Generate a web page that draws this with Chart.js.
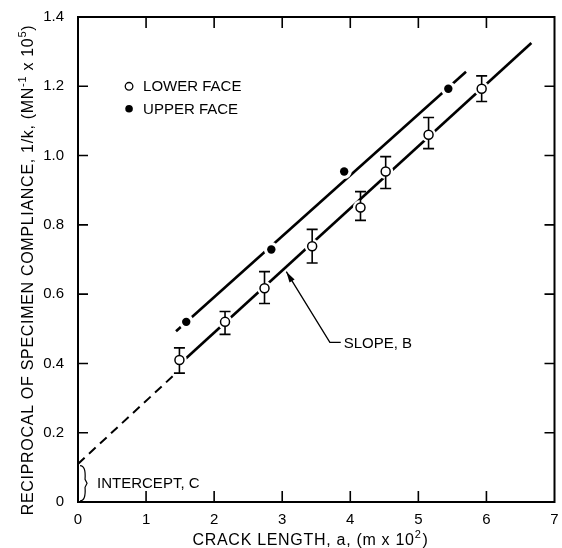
<!DOCTYPE html>
<html>
<head>
<meta charset="utf-8">
<script src="https://cdn.jsdelivr.net/npm/chart.js@4.4.0/dist/chart.umd.min.js"></script>
<style>
  body { margin: 0; background: #fff; }
  canvas { display: block; }
</style>
</head>
<body>
<canvas id="myChart" width="562" height="548"></canvas>
<script>
// data
var lowerX = [1.49, 2.16, 2.74, 3.44, 4.15, 4.52, 5.15, 5.93];
var lowerY = [0.41, 0.52, 0.617, 0.738, 0.85, 0.954, 1.06, 1.193];
var lowerErrLo = [0.372, 0.484, 0.573, 0.69, 0.813, 0.905, 1.02, 1.156];
var lowerErrHi = [0.445, 0.55, 0.665, 0.787, 0.896, 0.997, 1.11, 1.23];
var upperX = [1.59, 2.84, 3.91, 5.44];
var upperY = [0.52, 0.729, 0.954, 1.193];
var lowerFit = [[1.56, 0.41], [6.66, 1.325]];
var lowerFitExt = [[0, 0.11], [1.44, 0.372]];
var upperFit = [[1.44, 0.493], [5.70, 1.242]];
var xTicks = [0, 1, 2, 3, 4, 5, 6, 7];
var yTicks = [0, 0.2, 0.4, 0.6, 0.8, 1.0, 1.2, 1.4];

var FONT = '"Liberation Sans", Arial, sans-serif';

function pts(xs, ys) {
    return xs.map(function (x, i) { return { x: x, y: ys[i] }; });
}
function pairs(p) {
    return p.map(function (d) { return { x: d[0], y: d[1] }; });
}

// error bars, drawn right after the white halo so markers sit on top
function drawErrorBars(chart) {
    var ctx = chart.ctx, xs = chart.scales.x, ys = chart.scales.y;
    ctx.save();
    ctx.strokeStyle = '#000';
    ctx.lineWidth = 1.6;
    for (var i = 0; i < lowerX.length; i++) {
        var px = xs.getPixelForValue(lowerX[i]);
        var y1 = ys.getPixelForValue(lowerErrLo[i]);
        var y2 = ys.getPixelForValue(lowerErrHi[i]);
        ctx.beginPath();
        ctx.moveTo(px, y1); ctx.lineTo(px, y2);
        ctx.moveTo(px - 5.5, y1); ctx.lineTo(px + 5.5, y1);
        ctx.moveTo(px - 5.5, y2); ctx.lineTo(px + 5.5, y2);
        ctx.stroke();
    }
    ctx.restore();
}

var decor = {
    id: 'decor',
    afterDatasetDraw: function (chart, args) {
        if (args.meta.label === 'halo') drawErrorBars(chart);
    },
    afterDraw: function (chart) {
        var ctx = chart.ctx, a = chart.chartArea;
        var xs = chart.scales.x, ys = chart.scales.y;
        ctx.save();
        ctx.strokeStyle = '#000';
        ctx.fillStyle = '#000';

        // frame
        ctx.lineWidth = 2;
        ctx.strokeRect(a.left, a.top, a.right - a.left, a.bottom - a.top);

        // inward ticks on all sides
        ctx.lineWidth = 1.6;
        ctx.beginPath();
        xTicks.slice(1, -1).forEach(function (v) {
            var px = xs.getPixelForValue(v);
            ctx.moveTo(px, a.bottom); ctx.lineTo(px, a.bottom - 11);
            ctx.moveTo(px, a.top); ctx.lineTo(px, a.top + 11);
        });
        yTicks.slice(1, -1).forEach(function (v) {
            var py = ys.getPixelForValue(v);
            ctx.moveTo(a.left, py); ctx.lineTo(a.left + 10, py);
            ctx.moveTo(a.right, py); ctx.lineTo(a.right - 10, py);
        });
        ctx.stroke();

        // legend
        var lx = xs.getPixelForValue(0.75);
        var ly1 = ys.getPixelForValue(1.2);
        var ly2 = ly1 + 22.5;
        ctx.lineWidth = 1.3;
        ctx.beginPath(); ctx.arc(lx, ly1, 3.8, 0, Math.PI * 2); ctx.stroke();
        ctx.beginPath(); ctx.arc(lx, ly2, 3.8, 0, Math.PI * 2); ctx.fill();
        ctx.font = '15px ' + FONT;
        ctx.textBaseline = 'middle';
        ctx.textAlign = 'left';
        ctx.fillText('LOWER FACE', lx + 14, ly1 + 1);
        ctx.fillText('UPPER FACE', lx + 14, ly2 + 1);

        // slope annotation with arrow
        var tipX = xs.getPixelForValue(3.06), tipY = ys.getPixelForValue(0.665);
        var kx = xs.getPixelForValue(3.70), ky = ys.getPixelForValue(0.461);
        var ex = xs.getPixelForValue(3.86);
        ctx.lineWidth = 1.3;
        ctx.beginPath();
        ctx.moveTo(ex, ky); ctx.lineTo(kx, ky); ctx.lineTo(tipX, tipY);
        ctx.stroke();
        var ang = Math.atan2(tipY - ky, tipX - kx);
        ctx.beginPath();
        ctx.moveTo(tipX, tipY);
        ctx.lineTo(tipX - 11 * Math.cos(ang) + 3 * Math.sin(ang), tipY - 11 * Math.sin(ang) - 3 * Math.cos(ang));
        ctx.lineTo(tipX - 11 * Math.cos(ang) - 3 * Math.sin(ang), tipY - 11 * Math.sin(ang) + 3 * Math.cos(ang));
        ctx.closePath();
        ctx.fill();
        ctx.fillText('SLOPE, B', ex + 3, ky + 2);

        // intercept brace
        var bx = xs.getPixelForValue(0.03);
        var bTop = ys.getPixelForValue(0.105), bBot = ys.getPixelForValue(0.003);
        var bMid = (bTop + bBot) / 2;
        ctx.lineWidth = 1.2;
        ctx.beginPath();
        ctx.moveTo(bx, bTop);
        ctx.quadraticCurveTo(bx + 6, bTop, bx + 5, bMid - 4);
        ctx.lineTo(bx + 7, bMid);
        ctx.lineTo(bx + 5, bMid + 4);
        ctx.quadraticCurveTo(bx + 6, bBot, bx, bBot);
        ctx.stroke();
        ctx.fillText('INTERCEPT, C', bx + 17, bMid + 1);

        // x axis title
        ctx.font = '16px ' + FONT;
        ctx.letterSpacing = '0.7px';
        ctx.textAlign = 'left';
        var t1 = 'CRACK LENGTH, a, (m x 10';
        var w1 = ctx.measureText(t1).width;
        ctx.font = '11px ' + FONT;
        var w2 = ctx.measureText('2').width;
        ctx.font = '16px ' + FONT;
        var w3 = ctx.measureText(')').width;
        var tx = 310 - (w1 + w2 + w3) / 2, ty = 541;
        ctx.fillText(t1, tx, ty);
        ctx.font = '11px ' + FONT;
        ctx.fillText('2', tx + w1, ty - 6);
        ctx.font = '16px ' + FONT;
        ctx.fillText(')', tx + w1 + w2 + 1, ty);

        // y axis title (rotated)
        var segs = [
            ['RECIPROCAL OF SPECIMEN COMPLIANCE, 1/k, (MN', false],
            ['-1', true],
            [' x 10', false],
            ['5', true],
            [')', false]
        ];
        var total = 0;
        segs.forEach(function (s) {
            ctx.font = (s[1] ? '11px ' : '16px ') + FONT;
            s.w = ctx.measureText(s[0]).width;
            total += s.w;
        });
        ctx.translate(29, 270);
        ctx.rotate(-Math.PI / 2);
        var cx = -total / 2;
        segs.forEach(function (s) {
            ctx.font = (s[1] ? '11px ' : '16px ') + FONT;
            ctx.fillText(s[0], cx, s[1] ? -6 : 0);
            cx += s.w;
        });
        ctx.restore();
    }
};

var ctx = document.getElementById('myChart').getContext('2d');
var chart = new Chart(ctx, {
    type: 'scatter',
    data: {
        datasets: [{
            label: 'lower fit',
            data: pairs(lowerFit),
            showLine: true,
            borderColor: '#000',
            borderWidth: 2.6,
            pointRadius: 0,
            order: 5
        }, {
            label: 'lower fit extrapolated',
            data: pairs(lowerFitExt),
            showLine: true,
            borderColor: '#000',
            borderWidth: 2,
            borderDash: [9, 6],
            pointRadius: 0,
            order: 5
        }, {
            label: 'upper fit',
            data: pairs(upperFit),
            showLine: true,
            borderColor: '#000',
            borderWidth: 2.6,
            pointRadius: 0,
            order: 5
        }, {
            label: 'halo',
            data: pts(lowerX, lowerY).concat(pts(upperX, upperY)),
            pointRadius: 7.5,
            pointBackgroundColor: '#fff',
            pointBorderWidth: 0,
            pointBorderColor: '#fff',
            order: 3
        }, {
            label: 'LOWER FACE',
            data: pts(lowerX, lowerY),
            pointRadius: 4.5,
            pointBackgroundColor: '#fff',
            pointBorderColor: '#000',
            pointBorderWidth: 1.5,
            order: 1
        }, {
            label: 'UPPER FACE',
            data: pts(upperX, upperY),
            pointRadius: 4.2,
            pointBackgroundColor: '#000',
            pointBorderColor: '#000',
            pointBorderWidth: 0,
            order: 1
        }]
    },
    options: {
        responsive: false,
        animation: false,
        layout: { padding: { top: 17, right: 0, left: 0, bottom: 0 } },
        plugins: {
            legend: { display: false },
            tooltip: { enabled: false }
        },
        scales: {
            x: {
                type: 'linear',
                min: 0,
                max: 7,
                afterFit: function (s) {
                    s.height = 46;
                    s.paddingLeft = 0;
                    s.paddingRight = 0;
                },
                afterBuildTicks: function (s) {
                    s.ticks = xTicks.map(function (v) { return { value: v }; });
                },
                grid: { display: false, drawTicks: false },
                border: { display: false },
                ticks: {
                    padding: 9,
                    color: '#000',
                    font: { family: FONT, size: 15 },
                    callback: function (v) { return String(v); }
                }
            },
            y: {
                type: 'linear',
                min: 0,
                max: 1.4,
                afterFit: function (s) {
                    s.width = 78;
                    s.paddingTop = 0;
                    s.paddingBottom = 0;
                },
                afterBuildTicks: function (s) {
                    s.ticks = yTicks.map(function (v) { return { value: v }; });
                },
                grid: { display: false, drawTicks: false },
                border: { display: false },
                ticks: {
                    padding: 14,
                    color: '#000',
                    font: { family: FONT, size: 15 },
                    callback: function (v) { return v === 0 ? '0' : v.toFixed(1); }
                }
            }
        }
    },
    plugins: [decor]
});
</script>
</body>
</html>
